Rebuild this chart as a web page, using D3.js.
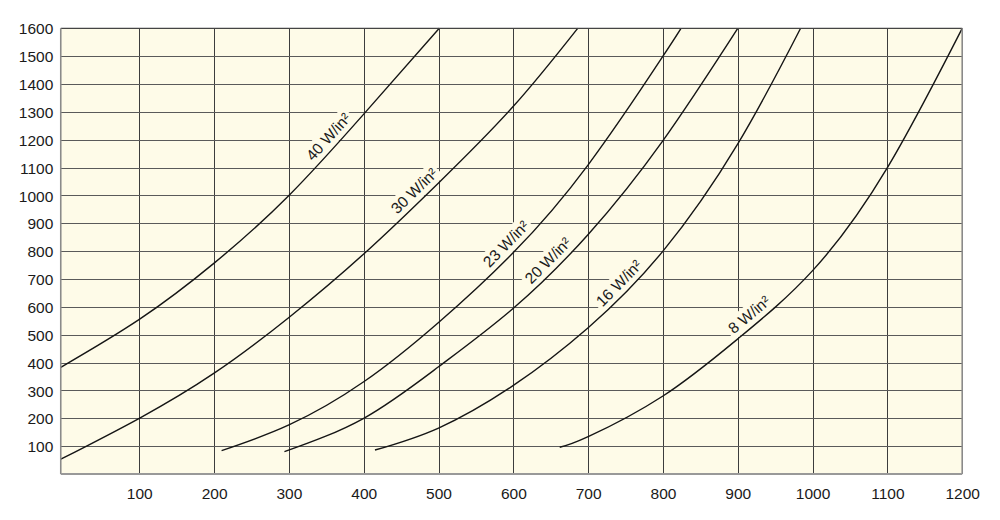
<!DOCTYPE html>
<html><head><meta charset="utf-8">
<script src="https://cdn.jsdelivr.net/npm/d3@7"></script>
<style>body{margin:0;background:#fff}svg{display:block}</style>
</head><body>
<svg id="chart" width="1000" height="520"></svg>
<script>
// ---- data ----
const xTicks = [100,200,300,400,500,600,700,800,900,1000,1100,1200];
const yTicks = [100,200,300,400,500,600,700,800,900,1000,1100,1200,1300,1400,1500,1600];
const seriesLabels = ["40 W/in²","30 W/in²","23 W/in²","20 W/in²","16 W/in²","8 W/in²"];
const w40x = [-5,100,200,300,400,501];
const w40y = [383,555,757,1000,1292,1600];
const w30x = [-5,100,200,300,400,500,600,686];
const w30y = [53,200,362,562,790,1045,1320,1600];
const w23x = [210,300,400,500,600,700,800,824];
const w23y = [84,176,331,544,795,1110,1500,1600];
const w20x = [294,400,500,600,700,800,900];
const w20y = [80,200,385,595,860,1197,1600];
const w16x = [415,500,600,700,800,900,984];
const w16y = [86,165,318,525,800,1185,1600];
const w8x  = [662,700,800,900,1000,1100,1200];
const w8y  = [96,134,280,485,730,1100,1600];
const labelAtX = [364,478,601,657,752,925];

const seriesX = [w40x,w30x,w23x,w20x,w16x,w8x];
const seriesY = [w40y,w30y,w23y,w20y,w16y,w8y];

// ---- layout ----
const BG = "#fefbe8";
const x = d3.scaleLinear().domain([0,1200]).range([64.5,962.2]);
const y = d3.scaleLinear().domain([0,1600]).range([474,28.3]);
const pL = x(-5), pR = x(1200), pT = y(1600), pB = y(0);

const svg = d3.select("#chart");
const font = "'Liberation Sans', Arial, Helvetica, sans-serif";

svg.append("rect").attr("x",pL).attr("y",pT).attr("width",pR-pL).attr("height",pB-pT).attr("fill",BG);

// grid
const grid = svg.append("g").attr("stroke","#3d3d3d").attr("stroke-width",1).attr("shape-rendering","crispEdges");
grid.selectAll("line.v").data(xTicks.slice(0,-1)).join("line").attr("class","v")
  .attr("x1",d=>Math.round(x(d))+0.5).attr("x2",d=>Math.round(x(d))+0.5).attr("y1",pT).attr("y2",pB);
grid.selectAll("line.h").data(yTicks.slice(0,-1)).join("line").attr("class","h")
  .attr("stroke","#5a5a5a")
  .attr("x1",pL).attr("x2",pR).attr("y1",d=>Math.round(y(d))+0.5).attr("y2",d=>Math.round(y(d))+0.5);

// axes via d3
const xAxis = d3.axisBottom(x).tickValues(xTicks).tickSize(0).tickPadding(14).tickFormat(d3.format("d"));
const gx = svg.append("g").attr("transform",`translate(0,${pB})`).call(xAxis);
gx.select(".domain").remove();
gx.selectAll("text").attr("font-family",font).attr("font-size",15.5).attr("fill","#1a1a1a");

const yAxis = d3.axisLeft(y).tickValues(yTicks).tickSize(0).tickPadding(7.5).tickFormat(d3.format("d"));
const gy = svg.append("g").attr("transform",`translate(${pL},0)`).call(yAxis);
gy.select(".domain").remove();
gy.selectAll("text").attr("font-family",font).attr("font-size",15.5).attr("fill","#1a1a1a").attr("dy","0.36em");

// labels with knockout
const line = d3.line().x(d=>x(d[0])).y(d=>y(d[1])).curve(d3.curveNatural);
const paths = seriesX.map((xs,i)=>xs.map((v,j)=>[v,seriesY[i][j]]));

// temporary paths to sample the exact drawn curve
const tmp = svg.append("g").attr("visibility","hidden");
function pointAtX(pathNode, px){
  const L = pathNode.getTotalLength();
  let lo=0, hi=L;
  for(let k=0;k<40;k++){ const m=(lo+hi)/2; if(pathNode.getPointAtLength(m).x<px) lo=m; else hi=m; }
  return lo;
}
const labG = svg.append("g");
seriesLabels.forEach((lab,i)=>{
  const pn = tmp.append("path").attr("d",line(paths[i])).node();
  const s = pointAtX(pn, x(labelAtX[i]));
  const p = pn.getPointAtLength(s), a = pn.getPointAtLength(Math.max(0,s-10)), b = pn.getPointAtLength(s+10);
  const ang = Math.atan2(b.y-a.y, b.x-a.x)*180/Math.PI;
  const g=labG.append("g").attr("transform",`translate(${p.x},${p.y}) rotate(${ang})`);
  const r=g.append("rect").attr("fill",BG);
  const t=g.append("text").attr("x",0).attr("y",-6).attr("text-anchor","middle")
    .attr("font-family",font).attr("font-size",15.5).attr("fill","#1a1a1a").text(lab);
  const bb=t.node().getBBox();
  r.attr("x",bb.x-3).attr("y",bb.y-1).attr("width",bb.width+6).attr("height",bb.height+3);
});
tmp.remove();

// curves
svg.append("g").selectAll("path").data(paths).join("path")
  .attr("d",line).attr("fill","none").attr("stroke","#151515").attr("stroke-width",1.4);

// frame
svg.append("line").attr("x1",pL).attr("x2",pR).attr("y1",pT).attr("y2",pT).attr("stroke","#444").attr("stroke-width",1.2);
svg.append("line").attr("x1",pL).attr("x2",pL).attr("y1",pT).attr("y2",pB).attr("stroke","#8a8a8a").attr("stroke-width",1.6);
svg.append("line").attr("x1",pR).attr("x2",pR).attr("y1",pT).attr("y2",pB).attr("stroke","#8a8a8a").attr("stroke-width",1.6);
svg.append("line").attr("x1",pL).attr("x2",pR).attr("y1",pB).attr("y2",pB).attr("stroke","#999").attr("stroke-width",2);
</script>
</body></html>
